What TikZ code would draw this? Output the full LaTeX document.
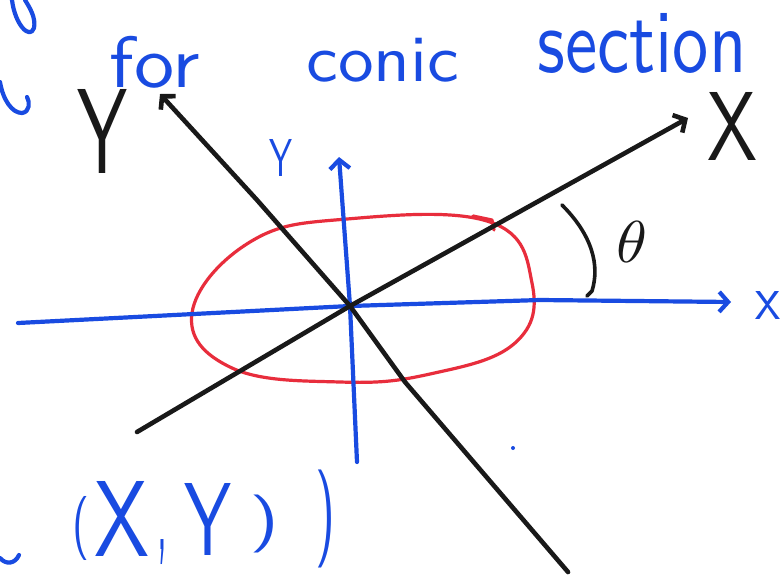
\documentclass[tikz,border=0pt]{standalone}
\usepackage{fontspec}
\usepackage{graphicx}
\usetikzlibrary{arrows.meta}
\definecolor{penblue}{RGB}{25,75,225}
\definecolor{penred}{RGB}{232,45,60}
\definecolor{penblack}{RGB}{25,25,25}
\newcommand{\hwtxt}[3]{\resizebox*{#1pt}{#2pt}{#3}}
\begin{document}
\begin{tikzpicture}[x=1pt,y=-1pt, line cap=round, line join=round,
  blueink/.style={draw=penblue, line width=4.2pt},
  blackink/.style={draw=penblack, line width=4.6pt},
  redink/.style={draw=penred, line width=3.2pt},
  barb/.style={-{Straight Barb[length=9pt,width=20pt]}},
  bluetxt/.style={inner sep=0pt, text=penblue, font=\sffamily},
  blacktxt/.style={inner sep=0pt, text=penblack, font=\sffamily}]
\useasboundingbox (0,0) rectangle (781,576);
\fill[white] (0,0) rectangle (781,576);

% centre and axis ends
\coordinate (o) at (350,306);
\coordinate (xl) at (18,323);
\coordinate (xm) at (540,300);
\coordinate (xr) at (731,302);
\coordinate (yb) at (357,462);
\coordinate (yt) at (339,157);
\coordinate (Xl) at (137,432);
\coordinate (Xr) at (688,118);
\coordinate (Yb) at (568,572);
\coordinate (Ym) at (405,382);
\coordinate (Yu) at (257,200);
\coordinate (Yt) at (160,94);

% red ellipse
\draw[redink] plot[smooth cycle, tension=0.7] coordinates {(192,313) (250,242) (347,219) (490,222) (532,283) (515,343) (430,374) (340,382) (232,368)};
\draw[redink] (473,216) -- (492,220) -- (494,230);

% blue axes
\draw[blueink, barb] (xl) -- (o) -- (xm) -- (xr);
\draw[blueink, barb] (yb) -- (o) -- (yt);

% black rotated axes
\draw[blackink, barb] (Xl) -- (o) -- (Xr);
\draw[blackink, barb] (Yb) -- (Ym) -- (o) -- (Yu) -- (Yt);

% angle arc
\coordinate (a1) at (562,205);
\coordinate (a2) at (592,291);
\draw[draw=penblack, line width=3.6pt] (a1) .. controls (592,235) and (600,265) .. (a2) -- ++(-5,5);

% labels
\node[blacktxt] (lblth) at (632,242) {\hwtxt{31}{41}{$\theta$}};
\node[blacktxt] (lblX) at (732,126) {\hwtxt{50}{68}{X}};
\node[blacktxt] (lblY) at (103,131) {\hwtxt{50}{84}{Y}};
\node[bluetxt] (lbly) at (281,158) {\hwtxt{23}{37}{Y}};
\node[bluetxt] (lblx) at (768,305) {\hwtxt{25}{28}{x}};

% title
\node[bluetxt] (tfor) at (155,62) {\hwtxt{90}{52}{for}};
\node[bluetxt] (tconic) at (383,60) {\hwtxt{153}{44}{conic}};
\node[bluetxt] (tsection) at (642,43) {\hwtxt{209}{60}{section}};

% bottom (X, Y) )
\node[bluetxt] (bp1) at (81,528) {\hwtxt{17}{64}{(}};
\node[bluetxt] (bX) at (122,519) {\hwtxt{55}{75}{X}};
\node[bluetxt] (bc) at (162,552) {\hwtxt{10}{25}{,}};
\node[bluetxt] (bY) at (208,519) {\hwtxt{47}{72}{Y}};
\node[bluetxt] (bp2) at (265,524) {\hwtxt{30}{58}{)}};
\node[bluetxt] (bp3) at (325,519) {\hwtxt{20}{98}{)}};

% cut-off pen strokes at the left edge
\draw[blueink] (12,0) .. controls (15,25) and (30,40) .. (34,28) .. controls (36,18) and (30,8) .. (25,0);
\draw[blueink] (0,82) .. controls (3,100) and (12,113) .. (22,113) .. controls (30,112) and (30,102) .. (27,97);
\draw[blueink] (0,558) .. controls (6,565) and (15,564) .. (19,555);
\fill[penblue] (513,448) circle (2);
\end{tikzpicture}
\end{document}
